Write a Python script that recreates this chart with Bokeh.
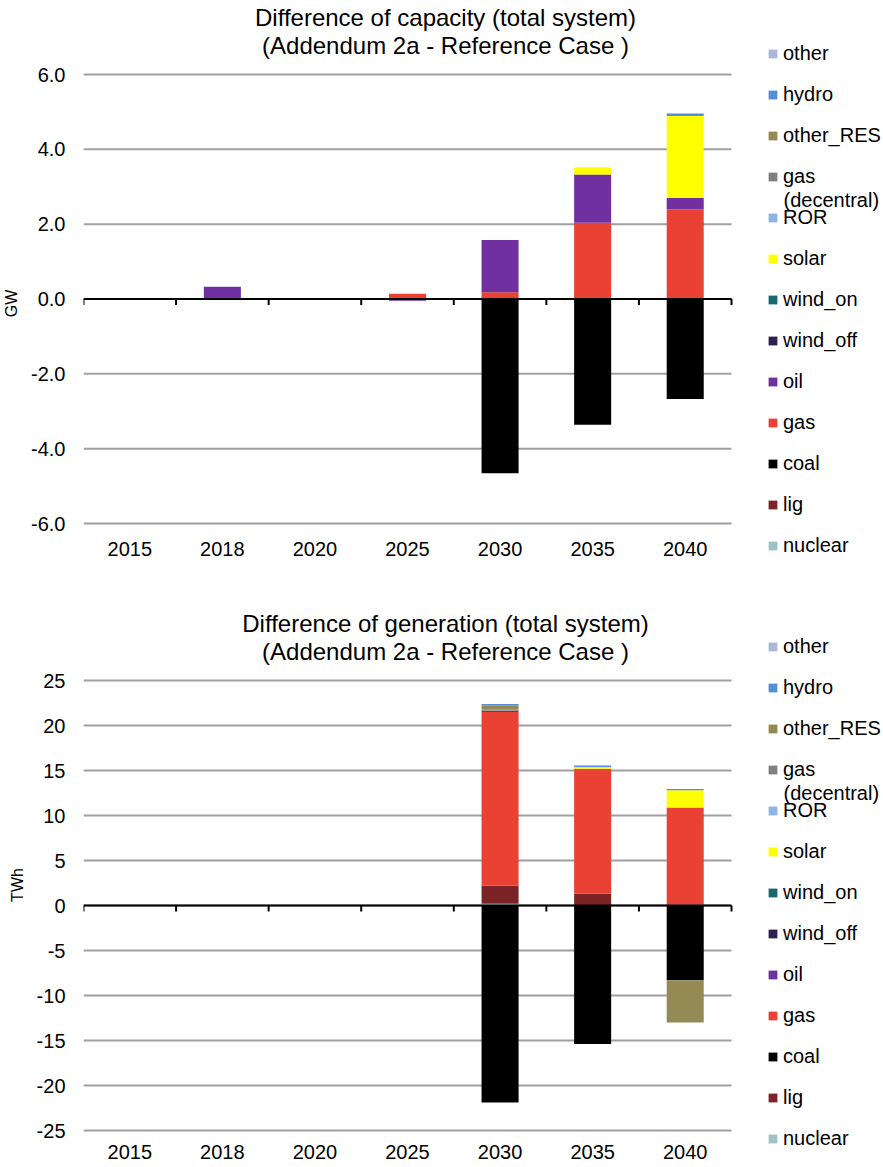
from bokeh.plotting import figure
from bokeh.models import (ColumnDataSource, Range1d, FixedTicker, NumeralTickFormatter,
                          Legend, LegendItem)
from bokeh.core.properties import value
from bokeh.layouts import column
from bokeh.embed import file_html
from bokeh.resources import INLINE

FONT = "Liberation Sans"

years = ["2015", "2018", "2020", "2025", "2030", "2035", "2040"]
series = ["nuclear", "lig", "coal", "gas", "oil", "wind_off", "wind_on", "solar",
          "ROR", "gas (decentral)", "other_RES", "hydro", "other"]
colors = ["#9DC3C6", "#7B2327", "#000000", "#E94234", "#7030A0", "#2F2150", "#17676F",
          "#FFFF00", "#8DB4E2", "#808080", "#948A54", "#558ED5", "#A9B9DB"]

# capacity difference (GW)
cap_nuclear = [0, 0, 0, 0, 0, 0, 0]
cap_lig = [0, 0, 0, 0, 0, 0, 0]
cap_coal = [0, 0, 0, 0, -4.66, -3.36, -2.67]
cap_gas = [0, 0, 0, 0.14, 0.18, 2.04, 2.40]
cap_oil = [0, 0.33, 0, -0.05, 1.40, 1.29, 0.30]
cap_wind_off = [0, 0, 0, 0, 0, 0, 0]
cap_wind_on = [0, 0, 0, 0, 0, 0, 0]
cap_solar = [0, 0, 0, 0, 0, 0.19, 2.19]
cap_ror = [0, 0, 0, 0, 0, 0, 0]
cap_gas_dec = [0, 0, 0, 0, 0, 0, 0]
cap_other_res = [0, 0, 0, 0, 0, 0, 0]
cap_hydro = [0, 0, 0, 0, 0, 0, 0.07]
cap_other = [0, 0, 0, 0, 0, 0, 0]

# generation difference (TWh)
gen_nuclear = [0, 0, 0, 0, 0.2, 0, 0]
gen_lig = [0, 0, 0, 0, 2.0, 1.3, 0.1]
gen_coal = [0, 0, 0, 0, -21.9, -15.4, -8.3]
gen_gas = [0, 0, 0, 0, 19.3, 13.9, 10.8]
gen_oil = [0, 0, 0, 0, 0.1, 0, 0]
gen_wind_off = [0, 0, 0, 0, 0, 0, 0]
gen_wind_on = [0, 0, 0, 0, 0, 0, 0]
gen_solar = [0, 0, 0, 0, 0, 0.15, 1.9]
gen_ror = [0, 0, 0, 0, 0.05, 0.05, 0]
gen_gas_dec = [0, 0, 0, 0, 0.1, 0, 0]
gen_other_res = [0, 0, 0, 0, 0.45, 0, -4.7]
gen_hydro = [0, 0, 0, 0, 0.2, 0.15, 0.15]
gen_other = [0, 0, 0, 0, 0, 0, 0]

cap_values = [cap_nuclear, cap_lig, cap_coal, cap_gas, cap_oil, cap_wind_off, cap_wind_on,
              cap_solar, cap_ror, cap_gas_dec, cap_other_res, cap_hydro, cap_other]
gen_values = [gen_nuclear, gen_lig, gen_coal, gen_gas, gen_oil, gen_wind_off, gen_wind_on,
              gen_solar, gen_ror, gen_gas_dec, gen_other_res, gen_hydro, gen_other]

cap_ticks = [-6, -4, -2, 0, 2, 4, 6]
gen_ticks = [-25, -20, -15, -10, -5, 0, 5, 10, 15, 20, 25]

cap_title = ["Difference of capacity (total system)", "(Addendum 2a - Reference Case )"]
gen_title = ["Difference of generation (total system)", "(Addendum 2a - Reference Case )"]

# layout constants (page pixels; the figures start at the page's top-left corner)
FIG_W = 883
LEFT = 83            # frame starts at page x 83
PLOT_L, PLOT_R = 83, 731
FRAME_R = FIG_W
LEG_X = 767          # legend glyph left edge
ITEM_H, ITEM_SP = 23, 18


def make_chart(title, values, ylabel, yticks, fmt, fig_top, fig_h, v_top, v_bot,
               leg_mid, label_standoff):
    n = len(years)
    y0, y1 = yticks[0], yticks[-1]
    ppu = (v_bot - v_top) / (y1 - y0)
    y_end = y1 + (v_top - fig_top) / ppu
    y_start = y0 - (fig_top + fig_h - v_bot) / ppu
    xppu = (PLOT_R - PLOT_L) / n
    x_end = n + (FRAME_R - PLOT_R) / xppu

    def ydata(py):
        return y1 - (py - v_top) / ppu

    def xdata(px):
        return (px - PLOT_L) / xppu

    xs = [i + 0.5 for i in range(n)]
    pos = {"x": xs}
    neg = {"x": xs}
    keys = []
    for i, vals in enumerate(values):
        k = "s%d" % i
        keys.append(k)
        pos[k] = [max(v, 0) for v in vals]
        neg[k] = [min(v, 0) for v in vals]

    p = figure(width=FIG_W, height=fig_h,
               x_range=Range1d(0, x_end), y_range=Range1d(y_start, y_end),
               output_backend="svg", toolbar_location=None,
               min_border_left=LEFT, min_border_right=0, min_border_top=0,
               min_border_bottom=0)
    p.outline_line_color = None
    p.background_fill_color = "white"
    p.border_fill_color = "white"
    p.xgrid.visible = False
    p.ygrid.visible = False

    # gridlines over the category area only
    p.segment(x0=[0] * len(yticks), x1=[n] * len(yticks), y0=yticks, y1=yticks,
              line_color="#A0A0A0", line_width=2)

    rp = p.vbar_stack(keys, x="x", width=0.4, source=ColumnDataSource(pos),
                      color=colors, line_color=None)
    p.vbar_stack(keys, x="x", width=0.4, source=ColumnDataSource(neg),
                 color=colors, line_color=None)

    # zero line with category boundary ticks (6 px long)
    tick_len = 6 / ppu
    bounds = list(range(n + 1))
    p.segment(x0=[0], x1=[n], y0=[0], y1=[0], line_color="#000000", line_width=2)
    p.segment(x0=bounds, x1=bounds, y0=[0] * len(bounds), y1=[-tick_len] * len(bounds),
              line_color="#000000", line_width=2)

    # y axis
    ya = p.yaxis[0]
    ya.bounds = (y0, y1)
    ya.ticker = FixedTicker(ticks=yticks)
    ya.formatter = NumeralTickFormatter(format=fmt)
    ya.axis_line_color = None
    ya.major_tick_line_color = None
    ya.minor_tick_line_color = None
    ya.major_tick_out = 0
    ya.major_tick_in = 0
    ya.minor_tick_out = 0
    ya.minor_tick_in = 0
    ya.major_label_standoff = 18
    ya.major_label_text_font = FONT
    ya.major_label_text_font_size = "20px"
    ya.major_label_text_color = "#000000"
    ya.axis_label = ylabel
    ya.axis_label_text_font = FONT
    ya.axis_label_text_font_size = "16px"
    ya.axis_label_text_font_style = "normal"
    ya.axis_label_text_color = "#000000"
    ya.axis_label_standoff = 8

    # category labels, axis fixed at the bottom gridline
    xa = p.xaxis[0]
    xa.fixed_location = y0
    xa.ticker = FixedTicker(ticks=xs)
    xa.major_label_overrides = {x: y for x, y in zip(xs, years)}
    xa.axis_line_color = None
    xa.major_tick_line_color = None
    xa.minor_tick_line_color = None
    xa.major_label_standoff = label_standoff
    xa.major_label_text_font = FONT
    xa.major_label_text_font_size = "20px"
    xa.major_label_text_color = "#000000"

    # title (two centred lines)
    title_y = [fig_top + 17, fig_top + 45]
    p.text(x=[xdata(445)] * 2, y=[ydata(t) for t in title_y], text=title,
           text_font=value(FONT), text_font_size=value("24px"), text_color="#000000",
           text_align="center", text_baseline="middle")

    # legend
    m = len(series)
    leg_h = m * ITEM_H + (m - 1) * ITEM_SP
    leg_top = leg_mid - leg_h / 2
    leg_bottom = leg_top + leg_h
    labels = [s.split(" (")[0] for s in series]
    items = [LegendItem(label=labels[i], renderers=[rp[i]]) for i in reversed(range(m))]
    legend = Legend(items=items, location=(LEG_X - PLOT_L, fig_top + fig_h - leg_bottom),
                    orientation="vertical",
                    glyph_width=11, glyph_height=11, label_height=ITEM_H,
                    label_standoff=5, spacing=ITEM_SP, padding=0, margin=0,
                    label_text_font=FONT, label_text_font_size="20px",
                    label_text_color="#000000",
                    border_line_color=None, background_fill_alpha=0)
    p.add_layout(legend)

    # second line of the wrapped "gas (decentral)" legend label
    k = m - 1 - series.index("gas (decentral)")
    gas_c = leg_top + ITEM_H / 2 + k * (ITEM_H + ITEM_SP)
    p.text(x=[xdata(LEG_X + 16)], y=[ydata(gas_c + 23)], text=["(decentral)"],
           text_font=value(FONT), text_font_size=value("20px"), text_color="#000000",
           text_align="left", text_baseline="middle")
    return p


p1 = make_chart(cap_title, cap_values, "GW", cap_ticks, "0.0",
                0, 606, 74, 523, 299.8, 12)
p2 = make_chart(gen_title, gen_values, "TWh", gen_ticks, "0",
                606, 557, 680, 1130, 892.5, 8)

layout = column(p1, p2, spacing=0)
open("out.html", "w").write(file_html(layout, INLINE))
